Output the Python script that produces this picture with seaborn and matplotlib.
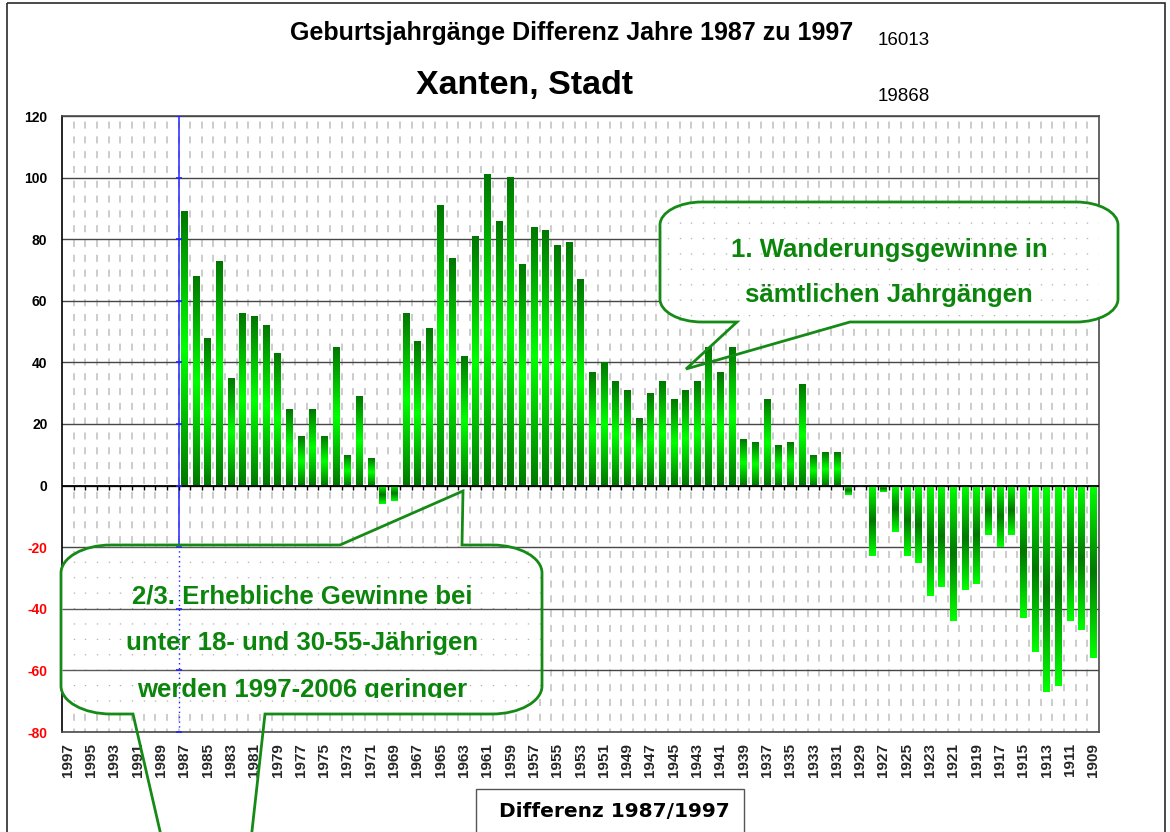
import numpy as np
import pandas as pd
import matplotlib
matplotlib.use("Agg")
import matplotlib.pyplot as plt
from matplotlib.path import Path
from matplotlib.patches import PathPatch, Rectangle
from matplotlib.transforms import Affine2D
import seaborn as sns

# Birth-year categories on the x axis (newest first)
jahrgaenge = list(range(1997, 1908, -1))
# Birth years that carry a difference value
jahrgaenge_mit_wert = list(range(1987, 1908, -1))
# Difference of the cohort sizes 1987 -> 1997
differenz = [
    89, 68, 48, 73, 35, 56, 55, 52, 43, 25,
    16, 25, 16, 45, 10, 29, 9, -6, -5, 56,
    47, 51, 91, 74, 42, 81, 101, 86, 100, 72,
    84, 83, 78, 79, 67, 37, 40, 34, 31, 22,
    30, 34, 28, 31, 34, 45, 37, 45, 15, 14,
    28, 13, 14, 33, 10, 11, 11, -3, 0, -23,
    -2, -15, -23, -25, -36, -33, -44, -34, -32, -16,
    -20, -16, -43, -54, -67, -65, -44, -47, -56,
]
y_ticks = [-80, -60, -40, -20, 0, 20, 40, 60, 80, 100, 120]
x_tick_labels = [str(j) for j in jahrgaenge[::2]]

titel = "Geburtsjahrgänge Differenz Jahre 1987 zu 1997"
ort = "Xanten, Stadt"
einwohner_1987 = "16013"
einwohner_1997 = "19868"
legend_label = "Differenz 1987/1997"
callout_1 = ["1. Wanderungsgewinne in", "sämtlichen Jahrgängen"]
callout_2 = ["2/3. Erhebliche Gewinne bei", "unter 18- und 30-55-Jährigen",
             "werden 1997-2006 geringer"]

W, H = 1170, 832
sns.set_theme(style="white")
plt.rcParams["font.family"] = ["Liberation Sans", "DejaVu Sans"]

fig = plt.figure(figsize=(W / 100, H / 100), dpi=100)
fig.patch.set_facecolor("white")
# pixel coordinates measured from the top-left corner of the figure
px = Affine2D().scale(1 / W, -1 / H).translate(0, 1) + fig.transFigure

ax = fig.add_axes([62 / W, 1 - 732 / H, (1099 - 62) / W, (732 - 116) / H])
ax.set_facecolor("white")

order = [str(j) for j in jahrgaenge]
df = pd.DataFrame({"Jahrgang": [str(j) for j in jahrgaenge_mit_wert],
                   "Differenz": differenz})
sns.barplot(data=df, x="Jahrgang", y="Differenz", order=order,
            color="#00b000", width=0.55, errorbar=None, ax=ax, zorder=3)

# vertical green gradient inside every bar (dark - bright - dark)
dark = np.array([0.0, 0.47, 0.0])
bright = np.array([0.0, 1.0, 0.0])
t = np.linspace(0, 1, 96)
tri = 1 - np.abs(2 * t - 1)
pos_grad = dark + np.outer(tri, bright - dark)
neg_grad = bright + np.outer(tri, dark - bright)
for bar in list(ax.patches):
    h = bar.get_height()
    if not np.isfinite(h) or h == 0:
        continue
    x0, w, y0 = bar.get_x(), bar.get_width(), bar.get_y()
    grad = pos_grad if h > 0 else neg_grad
    ax.imshow(grad[:, None, :], extent=[x0, x0 + w, min(y0, y0 + h), max(y0, y0 + h)],
              origin="lower", aspect="auto", interpolation="bilinear", zorder=3)
    bar.set_facecolor("none")
    bar.set_edgecolor("none")

n = len(order)
ax.set_xlim(-0.5, n - 0.5)
ax.set_ylim(y_ticks[0], y_ticks[-1])
ax.set_aspect("auto")

# grid: solid horizontal majors, dashed verticals between the categories
ax.set_axisbelow(True)
ax.set_yticks(y_ticks)
ax.yaxis.grid(True, color="#464646", lw=1.0)
boundaries = np.arange(0.5, n - 0.5, 1)
ax.set_xticks(boundaries, minor=True)
ax.xaxis.grid(True, which="minor", color="#c8c8c8", lw=1.3, linestyle=(2, (3.9, 4.3)))
ax.xaxis.grid(False, which="major")

ax.set_xticks(range(0, n, 2))
ax.set_xticklabels(x_tick_labels, rotation=90, fontsize=11, fontweight="bold")
ax.tick_params(axis="x", which="both", length=0, pad=8)
ax.set_yticklabels([str(v) for v in y_ticks], fontsize=10, fontweight="bold")
ax.tick_params(axis="y", length=0, pad=10.5)
for lbl, v in zip(ax.get_yticklabels(), y_ticks):
    lbl.set_color("#ff0000" if v < 0 else "black")
ax.set_xlabel("")
ax.set_ylabel("")

for side in ["top", "right", "bottom"]:
    ax.spines[side].set_color("#4a4a4a")
    ax.spines[side].set_linewidth(1.2)
ax.spines["left"].set_color("black")
ax.spines["left"].set_linewidth(1.2)

# zero axis with small tick marks at the category borders
ax.axhline(0, color="black", lw=1.3, zorder=4)
ax.vlines(boundaries, -1.4, 0, color="black", lw=1.0, zorder=4)

# blue marker line before the first recorded cohort
bx = order.index(str(jahrgaenge_mit_wert[0])) - 0.5
ax.vlines(bx, -20, y_ticks[-1], color="#2424ff", lw=1.1, zorder=3.5)
ax.vlines(bx, y_ticks[0], -20, color="#2424ff", lw=1.0, linestyles=(0, (1, 2.5)), zorder=6.5)
ax.plot([bx] * len(y_ticks), y_ticks, ls="none", marker="_", ms=5, mew=1.2,
        color="#2424ff", zorder=6.5)

# speech-bubble callouts
K = 0.5523


def callout_path(x0, y0, x1, y1, rx, ry, top_tail=None, bottom_tail=None):
    verts = [(x0 + rx, y0)]
    codes = [Path.MOVETO]

    def line(p):
        verts.append(p)
        codes.append(Path.LINETO)

    def curve(c1, c2, p):
        verts.extend([c1, c2, p])
        codes.extend([Path.CURVE4] * 3)

    if top_tail:
        a, tip, b = top_tail
        line((a, y0)); line(tip); line((b, y0))
    line((x1 - rx, y0))
    curve((x1 - rx + K * rx, y0), (x1, y0 + ry - K * ry), (x1, y0 + ry))
    line((x1, y1 - ry))
    curve((x1, y1 - ry + K * ry), (x1 - rx + K * rx, y1), (x1 - rx, y1))
    if bottom_tail:
        a, tip, b = bottom_tail
        line((b, y1)); line(tip); line((a, y1))
    line((x0 + rx, y1))
    curve((x0 + rx - K * rx, y1), (x0, y1 - ry + K * ry), (x0, y1 - ry))
    line((x0, y0 + ry))
    curve((x0, y0 + ry - K * ry), (x0 + rx - K * rx, y0), (x0 + rx, y0))
    verts.append((x0 + rx, y0))
    codes.append(Path.CLOSEPOLY)
    return Path(verts, codes)


edge_green = "#168a16"
text_green = "#0b850b"


def add_callout(box, radii, top_tail, bottom_tail, show_hlines):
    x0, y0, x1, y1 = box
    rx, ry = radii
    body = PathPatch(callout_path(x0, y0, x1, y1, rx, ry), facecolor="white",
                     edgecolor="none", transform=px, zorder=5)
    body.set_clip_on(False)
    ax.add_artist(body)
    dots = ax.vlines(np.arange(0.5, n, 1), y_ticks[0], y_ticks[-1], colors="#b4b4b4",
                     lw=1.0, linestyles=(0, (0.9, 10.2)), zorder=5.5)
    dots.set_clip_path(body)
    if show_hlines:
        hl = ax.hlines(y_ticks[1:-1], -0.5, n - 0.5, colors="#5a5a5a", lw=1.0, zorder=5.5)
        hl.set_clip_path(body)
    edge = PathPatch(callout_path(x0, y0, x1, y1, rx, ry, top_tail, bottom_tail),
                     facecolor="none", edgecolor=edge_green, lw=2.0,
                     transform=px, zorder=7, joinstyle="miter")
    edge.set_clip_on(False)
    ax.add_artist(edge)


add_callout((660, 202, 1118, 322), (42, 23), None, (737, (686, 369), 850), False)
add_callout((61, 545, 542, 714), (50, 28), (340, (463, 491), 462),
            (133, (222, 1100), 265), True)

for txt, yb in zip(callout_1, [257, 302]):
    t1 = ax.text(889, yb, txt, transform=px, ha="center", va="baseline",
                 fontsize=18.5, fontweight="bold", color=text_green, zorder=8)
    t1.set_clip_on(False)
clip_rect = Rectangle((0, 0), W, 698, transform=px)
for txt, yb in zip(callout_2, [603, 650, 697]):
    t2 = ax.text(302, yb, txt, transform=px, ha="center", va="baseline",
                 fontsize=18.5, fontweight="bold", color=text_green, zorder=8)
    t2.set_clip_on(True)
    t2.set_clip_path(clip_rect)

# headings
fig.text(572 / W, 1 - 40 / H, titel, ha="center", va="baseline",
         fontsize=18, fontweight="bold", color="black")
fig.text(878 / W, 1 - 45 / H, einwohner_1987, ha="left", va="baseline",
         fontsize=13.5, color="black")
fig.text(525 / W, 1 - 94 / H, ort, ha="center", va="baseline",
         fontsize=24.5, fontweight="bold", color="black")
fig.text(878 / W, 1 - 101 / H, einwohner_1997, ha="left", va="baseline",
         fontsize=13.5, color="black")

# legend box, cut by the lower image edge
leg_box = Rectangle((476, 789), 268, 90, transform=px, facecolor="white",
                    edgecolor="#555555", lw=1.0)
fig.add_artist(leg_box)
lax = fig.add_axes([482 / W, 1 - 815 / H, 12 / W, 13 / H])
lax.imshow(pos_grad[::-1][:, None, :], aspect="auto", interpolation="bilinear")
lax.set_axis_off()
fig.text(499 / W, 1 - 817 / H, legend_label, ha="left", va="baseline",
         fontsize=14.5, fontweight="bold", family=["DejaVu Sans"], color="black")

# outer chart frame
frame = Rectangle((7, 3), 1158, 900, transform=px, fill=False,
                  edgecolor="#2a2a2a", lw=1.2)
fig.add_artist(frame)

fig.savefig("out.png", dpi=100, facecolor="white")
